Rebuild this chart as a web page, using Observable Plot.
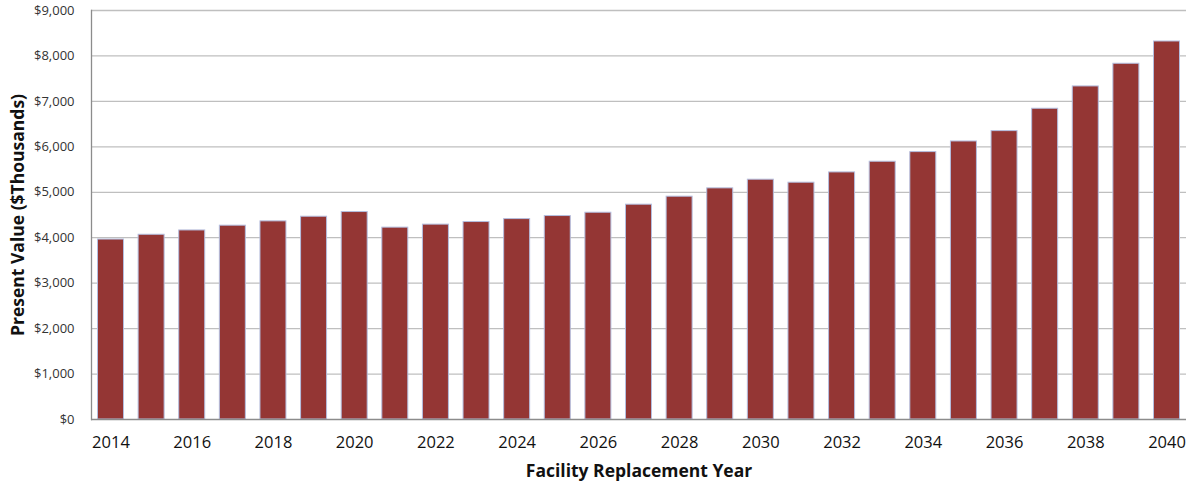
<!DOCTYPE html>
<html>
<head>
<meta charset="utf-8">
<script src="https://cdn.jsdelivr.net/npm/d3@7"></script>
<script src="https://cdn.jsdelivr.net/npm/@observablehq/plot@0.6"></script>
<style>
  html, body { margin: 0; padding: 0; background: #fff; }
  #chart { width: 1186px; height: 485px; }
</style>
</head>
<body>
<div id="chart"></div>
<script>
const years = [2014, 2015, 2016, 2017, 2018, 2019, 2020, 2021, 2022, 2023, 2024, 2025, 2026, 2027,
               2028, 2029, 2030, 2031, 2032, 2033, 2034, 2035, 2036, 2037, 2038, 2039, 2040];
const values = [3960, 4065, 4160, 4265, 4360, 4462, 4565, 4222, 4288, 4345, 4410, 4477, 4550, 4727,
                4903, 5086, 5277, 5211, 5437, 5672, 5884, 6118, 6346, 6838, 7329, 7828, 8318];
const yTicks = [0, 1000, 2000, 3000, 4000, 5000, 6000, 7000, 8000, 9000];
const xTickYears = years.filter(y => y % 2 === 0);
const xTitle = "Facility Replacement Year";
const yTitle = "Present Value ($Thousands)";

const data = years.map((y, i) => ({year: y, value: values[i]}));
const font = "'Open Sans', 'Liberation Sans', sans-serif";

const chart = Plot.plot({
  width: 1186,
  height: 485,
  marginLeft: 91,
  marginRight: 0,
  marginTop: 10,
  marginBottom: 66,
  style: {fontFamily: font, background: "#fff", overflow: "visible"},
  x: {type: "band", domain: years, paddingInner: 0.36, paddingOuter: 0.16, round: false, label: null},
  y: {domain: [0, 9000], label: null},
  marks: [
    Plot.ruleY(yTicks.filter(d => d > 0), {stroke: "#bfbfbf", strokeWidth: 1.3}),
    Plot.barY(data, {x: "year", y: "value", fill: "#943634", stroke: "#b4bedf", strokeWidth: 1}),
    Plot.ruleY([0], {stroke: "#8c8c8c", strokeWidth: 1.3}),
    Plot.frame({anchor: "left", stroke: "#8c8c8c", strokeWidth: 1.3}),
    Plot.axisY({ticks: yTicks, tickSize: 0, tickPadding: 17, label: null,
                tickFormat: d => "$" + d3.format(",")(d), fontSize: 13, fill: "#333"}),
    Plot.axisX({ticks: xTickYears, tickSize: 0, tickPadding: 17, label: null,
                tickFormat: d => String(d), fontSize: 16.5, fill: "#111"}),
    Plot.text([xTitle], {frameAnchor: "bottom", dy: 57, fontSize: 17.5, fontWeight: "bold", fill: "#111"}),
    Plot.text([yTitle], {frameAnchor: "left", textAnchor: "middle", dx: -73, rotate: -90, fontSize: 17.5, fontWeight: "bold", fill: "#111"})
  ]
});
document.getElementById("chart").appendChild(chart);
</script>
</body>
</html>
